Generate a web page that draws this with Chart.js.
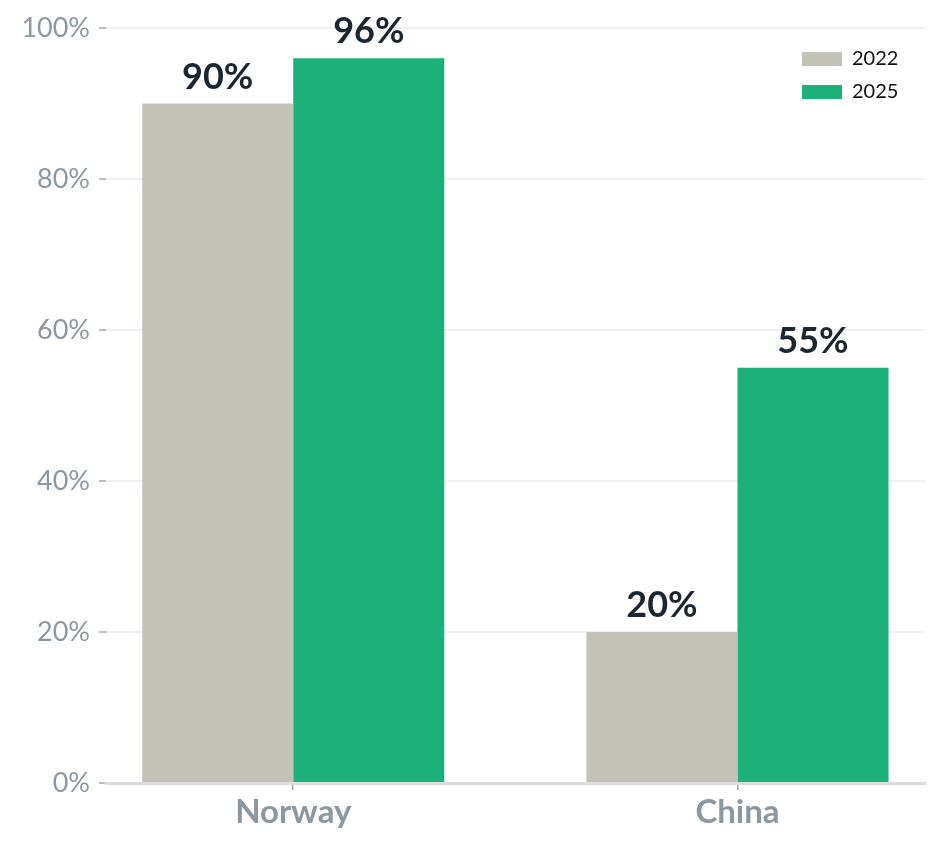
<!DOCTYPE html>
<html>
<head>
<meta charset="utf-8">
<script src="https://cdn.jsdelivr.net/npm/chart.js@4.4.1/dist/chart.umd.min.js"></script>
<style>
  html, body { margin: 0; padding: 0; background: #fff; }
  #wrap { width: 939px; height: 846px; }
</style>
</head>
<body>
<div id="wrap"><canvas id="myChart"></canvas></div>
<script>
const countries = ['Norway', 'China'];
const years = ['2022', '2025'];
const share2022 = [90, 20];
const share2025 = [96, 55];
const barColors = ['#c3c2b7', '#1cb07a'];

function toPoints(values) {
    return values.map((v, i) => ({ x: i, y: v }));
}

// value labels above each bar
const barLabels = {
    id: 'barLabels',
    afterDatasetsDraw(chart) {
        const ctx = chart.ctx;
        ctx.save();
        ctx.font = 'bold 36px Lato';
        ctx.fillStyle = '#1b2631';
        ctx.textAlign = 'center';
        ctx.textBaseline = 'alphabetic';
        chart.data.datasets.forEach((ds, i) => {
            chart.getDatasetMeta(i).data.forEach((bar, j) => {
                ctx.fillText(ds.data[j].y + '%', bar.x, bar.y - 15);
            });
        });
        ctx.restore();
    }
};

// put the legend in the top right corner of the plot
const legendSpot = {
    id: 'legendSpot',
    afterLayout(chart) {
        const lg = chart.legend;
        const area = chart.chartArea;
        lg.left = area.right - 137;
        lg.right = lg.left + lg.width;
        lg.top = area.top + 8;
        lg.bottom = lg.top + lg.height;
    }
};

const chart = new Chart('myChart', {
    type: 'bar',
    data: {
        datasets: [{
            label: years[0],
            data: toPoints(share2022),
            backgroundColor: barColors[0]
        }, {
            label: years[1],
            data: toPoints(share2025),
            backgroundColor: barColors[1]
        }]
    },
    options: {
        responsive: true,
        maintainAspectRatio: false,
        animation: false,
        categoryPercentage: 0.68,
        barPercentage: 1,
        layout: { padding: { top: 28, right: 13, left: 0, bottom: 0 } },
        plugins: {
            legend: {
                position: 'chartArea',
                align: 'start',
                labels: {
                    boxWidth: 40,
                    boxHeight: 14,
                    padding: 13,
                    color: '#111111',
                    font: { family: 'Lato', size: 20 }
                }
            },
            tooltip: { enabled: false }
        },
        scales: {
            x: {
                type: 'linear',
                offset: false,
                min: -0.4215,
                max: 1.4244,
                afterBuildTicks: s => { s.ticks = countries.map((c, i) => ({ value: i })); },
                afterFit: s => { s.height = 63; },
                ticks: {
                    callback: v => countries[v],
                    color: '#8b97a1',
                    padding: 3,
                    font: { family: 'Lato', size: 33, weight: 'bold' }
                },
                grid: {
                    offset: false,
                    drawOnChartArea: false,
                    drawTicks: true,
                    tickLength: 7,
                    color: '#9aa3ab',
                    lineWidth: 1.5
                },
                border: { display: true, color: '#dddddd', width: 3 }
            },
            y: {
                min: 0,
                max: 100,
                afterFit: s => { s.width = 106; },
                ticks: {
                    stepSize: 20,
                    callback: v => v + '%',
                    color: '#8b97a1',
                    padding: 9,
                    font: { family: 'Lato', size: 27 }
                },
                grid: {
                    color: '#eef0f3',
                    lineWidth: 2,
                    tickLength: 7,
                    tickColor: '#a0a8b0',
                    tickWidth: 1.5
                },
                border: { display: false }
            }
        }
    },
    plugins: [barLabels, legendSpot]
});
</script>
</body>
</html>
